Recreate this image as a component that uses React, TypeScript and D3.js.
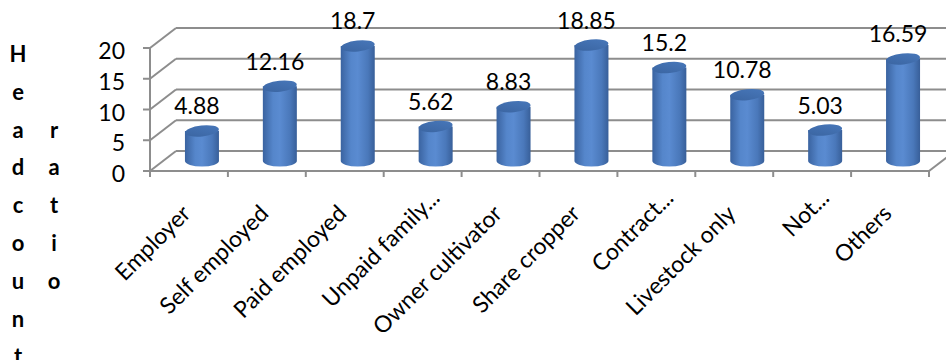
import React from "react";
import * as d3 from "d3";

const categories = [
  "Employer",
  "Self employed",
  "Paid employed",
  "Unpaid family...",
  "Owner cultivator",
  "Share cropper",
  "Contract...",
  "Livestock only",
  "Not...",
  "Others",
];
const values = [4.88, 12.16, 18.7, 5.62, 8.83, 18.85, 15.2, 10.78, 5.03, 16.59];
const yTicks = [0, 5, 10, 15, 20];
const titleWords = ["Headcount", "ratio"];

const W = 946;
const H = 360;
const FONT = "Lato, 'Liberation Sans', sans-serif";

// 3D frame: front plane plus a depth offset towards the back wall
const DX = 26;
const DY = -20;
const frontLeft = 150;
const frontRight = 929;

const x = d3.scaleBand<string>().domain(categories).range([frontLeft, frontRight]);
const y = d3.scaleLinear().domain([0, 20]).range([171, 48]);

const GRID = "#8d8d8d";
const RX = 17;
const RY = 5.5;

export default function App() {
  const rightEdge = frontRight + DX;
  const titleRows = d3.range(titleWords[0].length);
  const rowY = (i: number) => 62 + i * 37.8;
  const offset2 = Math.floor((titleWords[0].length - titleWords[1].length) / 2);

  return (
    <svg
      width={W}
      height={H}
      style={{ position: "absolute", left: 0, top: 0, background: "#fff" }}
      fontFamily={FONT}
    >
      <defs>
        <linearGradient id="cylBody" x1="0" x2="1" y1="0" y2="0">
          <stop offset="0%" stopColor="#3a63a0" />
          <stop offset="30%" stopColor="#5586cb" />
          <stop offset="50%" stopColor="#5a8bd1" />
          <stop offset="80%" stopColor="#4a78ba" />
          <stop offset="100%" stopColor="#385f99" />
        </linearGradient>
        <linearGradient id="cylTop" x1="0" x2="1" y1="1" y2="0">
          <stop offset="0%" stopColor="#3a64a0" />
          <stop offset="100%" stopColor="#4878bb" />
        </linearGradient>
      </defs>

      {/* back wall gridlines and left side wall */}
      {yTicks.map((t) => (
        <g key={"g" + t} stroke={GRID} strokeWidth={2} fill="none">
          <line x1={frontLeft} y1={y(t)} x2={frontLeft + DX} y2={y(t) + DY} />
          <line x1={frontLeft + DX} y1={y(t) + DY} x2={rightEdge} y2={y(t) + DY} />
          <line x1={frontLeft - 7} y1={y(t)} x2={frontLeft} y2={y(t)} />
        </g>
      ))}
      {/* floor front edge, right edge and y axis */}
      <g stroke={GRID} strokeWidth={2} fill="none">
        <line x1={frontLeft} y1={y(0)} x2={frontRight} y2={y(0)} />
        <line x1={frontRight} y1={y(0)} x2={frontRight + DX} y2={y(0) + DY} />
        <line x1={frontLeft} y1={y(20)} x2={frontLeft} y2={y(0)} />
        {categories.map((c, i) => (
          <line key={"t" + i} x1={x(c) as number} x2={x(c) as number} y1={y(0)} y2={y(0) + 6} />
        ))}
        <line x1={frontRight} x2={frontRight} y1={y(0)} y2={y(0) + 6} />
      </g>

      {/* y tick labels */}
      {yTicks.map((t) => (
        <text
          key={"yl" + t}
          x={125}
          y={y(t) + 3}
          dy="0.35em"
          textAnchor="end"
          fontSize={23}
          fill="#000"
        >
          {t}
        </text>
      ))}

      {/* cylinders */}
      {categories.map((c, i) => {
        const cx = (x(c) as number) + x.bandwidth() / 2 + DX / 2;
        const base = y(0) + DY / 2;
        const top = y(values[i]) + DY / 2;
        const body = `M${cx - RX},${top} L${cx - RX},${base} A${RX},${RY} 0 0 0 ${cx + RX},${base} L${cx + RX},${top} Z`;
        return (
          <g key={"b" + i}>
            <path d={body} fill="url(#cylBody)" />
            <ellipse
              cx={cx}
              cy={top}
              rx={RX}
              ry={RY}
              fill="url(#cylTop)"
              transform={`rotate(-6 ${cx} ${top})`}
            />
            <text
              x={cx - 5}
              y={top - RY - 11}
              textAnchor="middle"
              fontSize={23}
              fill="#000"
            >
              {values[i]}
            </text>
          </g>
        );
      })}

      {/* category labels */}
      {categories.map((c, i) => {
        const cx = (x(c) as number) + x.bandwidth() / 2;
        const truncated = c.endsWith("...");
        const shift = truncated ? 22 : 0;
        const px = cx + 3 + shift * Math.SQRT1_2;
        const py = 215 - shift * Math.SQRT1_2;
        return (
          <text
            key={"c" + i}
            transform={`translate(${px},${py}) rotate(-45)`}
            textAnchor="end"
            fontSize={23}
            fill="#000"
          >
            {c}
          </text>
        );
      })}

      {/* stacked axis title */}
      {titleRows.map((r) => (
        <text
          key={"h" + r}
          x={18}
          y={rowY(r)}
          textAnchor="middle"
          fontSize={22}
          fontWeight="bold"
          fill="#000"
        >
          {titleWords[0][r]}
        </text>
      ))}
      {titleWords[1].split("").map((ch, r) => (
        <text
          key={"r" + r}
          x={54}
          y={rowY(r + offset2)}
          textAnchor="middle"
          fontSize={22}
          fontWeight="bold"
          fill="#000"
        >
          {ch}
        </text>
      ))}
    </svg>
  );
}
